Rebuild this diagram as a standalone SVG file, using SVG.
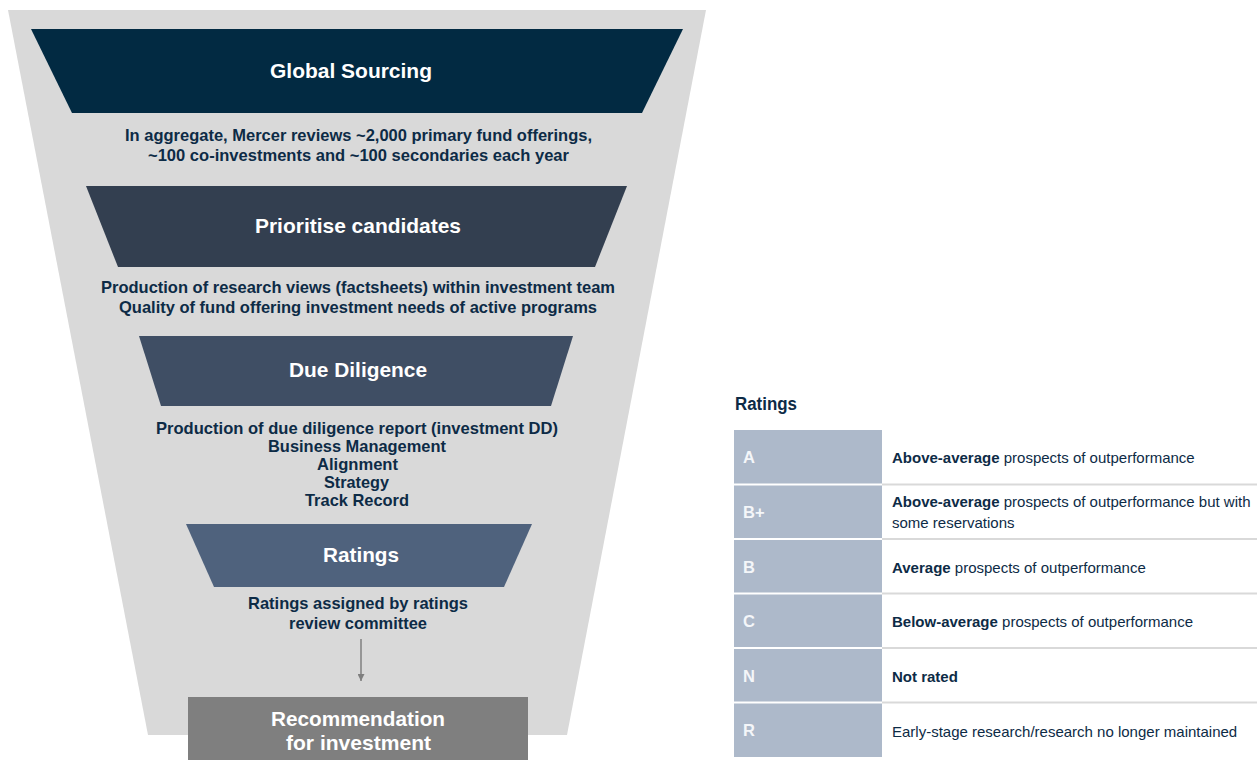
<svg xmlns="http://www.w3.org/2000/svg" width="1257" height="760" viewBox="0 0 1257 760">
  <style>
    .stage { font-family: "Liberation Sans", Arial, sans-serif; font-weight: bold; font-size: 21px; fill: #ffffff; text-anchor: middle; }
    .desc { font-family: "Liberation Sans", Arial, sans-serif; font-weight: bold; font-size: 17px; fill: #0d2b46; text-anchor: middle; }
    .title { font-family: "Liberation Sans", Arial, sans-serif; font-weight: bold; font-size: 17.5px; fill: #0d2b46; }
    .grade { font-family: "Liberation Sans", Arial, sans-serif; font-weight: bold; font-size: 16.5px; fill: #f4f6f9; }
    .meaning { font-family: "Liberation Sans", Arial, sans-serif; font-size: 15px; fill: #0d2b46; }
    .meaning .b { font-weight: bold; }
    .cell { fill: #adb9ca; }
    .rule { stroke: #d9d9d9; stroke-width: 2; }
  </style>
  <defs>
    <marker id="arrowhead" viewBox="0 0 10 10" refX="10" refY="5" markerWidth="7" markerHeight="7" markerUnits="userSpaceOnUse" orient="auto">
      <path d="M0,0 L10,5 L0,10 z" fill="#7f7f7f"/>
    </marker>
  </defs>

  <rect width="1257" height="760" fill="#ffffff"/>

  <!-- funnel backdrop -->
  <polygon id="funnel" points="8,10 706,10 567,735 148,735" fill="#d9d9d9"/>

  <g id="global-sourcing">
    <polygon points="31,29 683,29 642,113 72,113" fill="#022a42"/>
    <text class="stage" x="351" y="78" textLength="162" lengthAdjust="spacingAndGlyphs">Global Sourcing</text>
    <text class="desc" x="358.5" y="141" textLength="467" lengthAdjust="spacingAndGlyphs">In aggregate, Mercer reviews ~2,000 primary fund offerings,</text>
    <text class="desc" x="358.5" y="161" textLength="421" lengthAdjust="spacingAndGlyphs">~100 co-investments and ~100 secondaries each year</text>
  </g>

  <g id="prioritise">
    <polygon points="86,186 627,186 595,267 118,267" fill="#333f50"/>
    <text class="stage" x="358" y="233" textLength="206" lengthAdjust="spacingAndGlyphs">Prioritise candidates</text>
    <text class="desc" x="358" y="293" textLength="514" lengthAdjust="spacingAndGlyphs">Production of research views (factsheets) within investment team</text>
    <text class="desc" x="358" y="313" textLength="478" lengthAdjust="spacingAndGlyphs">Quality of fund offering investment needs of active programs</text>
  </g>

  <g id="due-diligence">
    <polygon points="139,336 573,336 551,406 161,406" fill="#3f4e64"/>
    <text class="stage" x="358" y="377" textLength="138" lengthAdjust="spacingAndGlyphs">Due Diligence</text>
    <text class="desc" x="357" y="434" textLength="402" lengthAdjust="spacingAndGlyphs">Production of due diligence report (investment DD)</text>
    <text class="desc" x="357" y="452" textLength="178" lengthAdjust="spacingAndGlyphs">Business Management</text>
    <text class="desc" x="357.5" y="470" textLength="81" lengthAdjust="spacingAndGlyphs">Alignment</text>
    <text class="desc" x="356.5" y="488" textLength="65" lengthAdjust="spacingAndGlyphs">Strategy</text>
    <text class="desc" x="357" y="506" textLength="104" lengthAdjust="spacingAndGlyphs">Track Record</text>
  </g>

  <g id="ratings">
    <polygon points="186,524 532,524 504,587 214,587" fill="#4f627d"/>
    <text class="stage" x="361" y="562" textLength="76" lengthAdjust="spacingAndGlyphs">Ratings</text>
    <text class="desc" x="358" y="609" textLength="220" lengthAdjust="spacingAndGlyphs">Ratings assigned by ratings</text>
    <text class="desc" x="358" y="629" textLength="138" lengthAdjust="spacingAndGlyphs">review committee</text>
  </g>

  <g id="connectors">
    <line x1="361" y1="639" x2="361" y2="681" stroke="#7f7f7f" stroke-width="1.5" marker-end="url(#arrowhead)"/>
  </g>

  <g id="recommendation">
    <rect x="188" y="697" width="340" height="63" fill="#7f7f7f"/>
    <text class="stage" x="358" y="726" textLength="174" lengthAdjust="spacingAndGlyphs">Recommendation</text>
    <text class="stage" x="358.5" y="750" textLength="145" lengthAdjust="spacingAndGlyphs">for investment</text>
  </g>

  <!-- ratings key -->
  <g id="ratings-key">
    <text class="title" x="735" y="410" textLength="62" lengthAdjust="spacingAndGlyphs">Ratings</text>

    <rect class="cell" x="734" y="430" width="148" height="53.5"/>
    <rect class="cell" x="734" y="485.5" width="148" height="52.5"/>
    <rect class="cell" x="734" y="540" width="148" height="52.5"/>
    <rect class="cell" x="734" y="594.5" width="148" height="52.5"/>
    <rect class="cell" x="734" y="649" width="148" height="52.5"/>
    <rect class="cell" x="734" y="703.5" width="148" height="53.5"/>

    <line class="rule" x1="882" y1="484.5" x2="1257" y2="484.5"/>
    <line class="rule" x1="882" y1="539" x2="1257" y2="539"/>
    <line class="rule" x1="882" y1="593.5" x2="1257" y2="593.5"/>
    <line class="rule" x1="882" y1="648" x2="1257" y2="648"/>
    <line class="rule" x1="882" y1="702.5" x2="1257" y2="702.5"/>

    <text class="grade" x="743" y="463">A</text>
    <text class="grade" x="743" y="518">B+</text>
    <text class="grade" x="743" y="573">B</text>
    <text class="grade" x="743" y="627">C</text>
    <text class="grade" x="743" y="682">N</text>
    <text class="grade" x="743" y="736">R</text>

    <text class="meaning" x="892" y="463"><tspan class="b">Above-average</tspan> prospects of outperformance</text>
    <text class="meaning" x="892" y="507"><tspan class="b">Above-average</tspan> prospects of outperformance but with</text>
    <text class="meaning" x="892" y="528">some reservations</text>
    <text class="meaning" x="892" y="573"><tspan class="b">Average</tspan> prospects of outperformance</text>
    <text class="meaning" x="892" y="627"><tspan class="b">Below-average</tspan> prospects of outperformance</text>
    <text class="meaning" x="892" y="682"><tspan class="b">Not rated</tspan></text>
    <text class="meaning" x="892" y="737">Early-stage research/research no longer maintained</text>
  </g>
</svg>
